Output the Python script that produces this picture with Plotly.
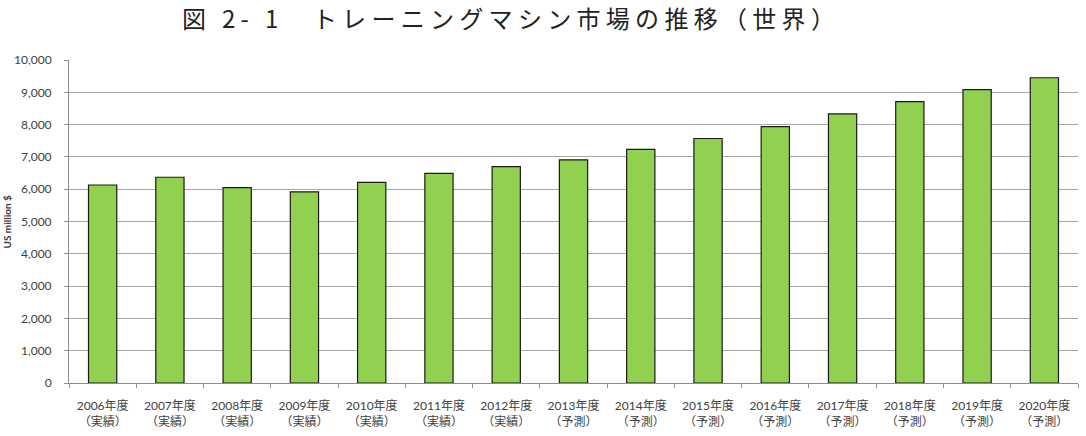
import plotly.graph_objects as go

years = ["2006年度", "2007年度", "2008年度", "2009年度", "2010年度", "2011年度", "2012年度",
         "2013年度", "2014年度", "2015年度", "2016年度", "2017年度", "2018年度", "2019年度", "2020年度"]
kinds = ["（実績）"] * 7 + ["（予測）"] * 8
values = [6130, 6370, 6050, 5920, 6210, 6490, 6700, 6910, 7230, 7570, 7940, 8330, 8710, 9080, 9450]
title_text = "図 2- 1　トレーニングマシン市場の推移（世界）"
y_title = "US million $"

labels = [f"{y}<br>{k}" for y, k in zip(years, kinds)]

fig = go.Figure(go.Bar(
    x=labels, y=values,
    marker=dict(color="#92D050", line=dict(color="#1a1a1a", width=1.2)),
))

fig.update_layout(
    width=1086, height=436,
    margin=dict(l=69, r=8, t=60, b=53),
    paper_bgcolor="white", plot_bgcolor="white",
    bargap=0.58,
    showlegend=False,
    font=dict(family="Lato, 'Noto Sans CJK JP', sans-serif", size=11, color="#404040"),
    annotations=[
        dict(text=f'<span style="letter-spacing:5.3px">{title_text}</span>',
             xref="paper", yref="paper", x=0.438, y=1, yshift=62, xanchor="center", yanchor="top",
             showarrow=False, font=dict(family="'Noto Sans CJK JP'", size=24, color="#222222")),
        dict(text=f"<b>{y_title}</b>", xref="paper", yref="paper", x=0, y=0.5, xshift=-63,
             xanchor="center", yanchor="middle", textangle=-90, showarrow=False,
             font=dict(size=10, color="#404040")),
    ],
)
fig.update_xaxes(
    showline=True, linecolor="#8c8c8c", linewidth=1,
    ticks="outside", tickson="boundaries", ticklen=4, tickcolor="#8c8c8c",
    tickfont=dict(size=12, color="#404040"), tickangle=0, ticklabelstandoff=12,
)
fig.update_yaxes(
    range=[0, 10000], dtick=1000, tickformat=",",
    showline=True, linecolor="#8c8c8c", linewidth=1,
    showgrid=True, gridcolor="#a6a6a6", gridwidth=1,
    ticks="outside", ticklen=4, tickcolor="#8c8c8c",
    tickfont=dict(size=12, color="#404040"), zeroline=False, ticklabelstandoff=10,
)

fig.write_html("out.html")
